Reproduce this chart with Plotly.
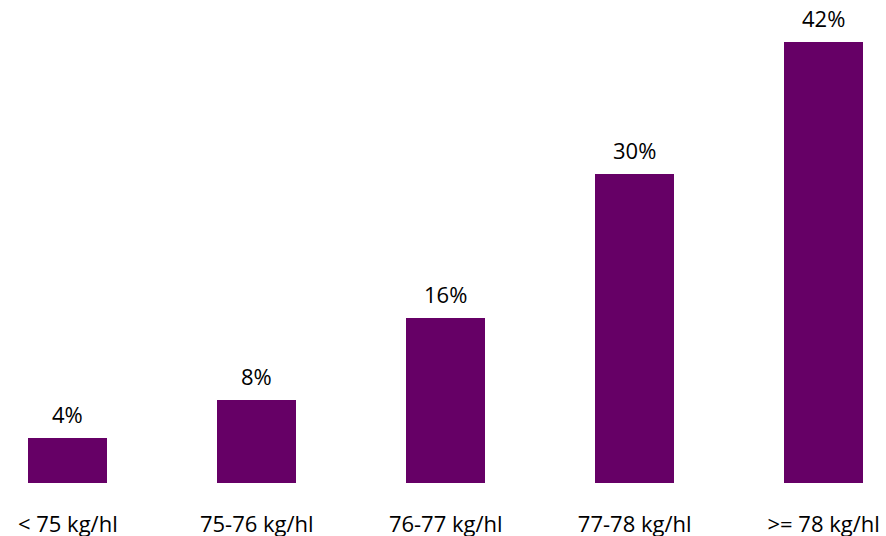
import plotly.graph_objects as go

categories = ["< 75 kg/hl", "75-76 kg/hl", "76-77 kg/hl", "77-78 kg/hl", ">= 78 kg/hl"]
values = [4.3, 7.9, 15.7, 29.4, 42.0]
labels = ["4%", "8%", "16%", "30%", "42%"]

BAR_COLOR = "#660066"
FONT = "Open Sans"
FSIZE = 22

fig = go.Figure()
fig.add_trace(go.Bar(
    x=list(range(len(categories))),
    y=values,
    width=0.42,
    marker=dict(color=BAR_COLOR, line=dict(width=0)),
    hoverinfo="skip",
))

for i, (v, t) in enumerate(zip(values, labels)):
    fig.add_annotation(x=i, y=v, text=t, showarrow=False, yanchor="middle",
                       yshift=24, font=dict(family=FONT, size=FSIZE, color="#000000"))

fig.update_layout(
    width=886, height=536,
    margin=dict(l=0, r=0, t=10, b=53, autoexpand=False),
    paper_bgcolor="white", plot_bgcolor="white",
    showlegend=False,
    font=dict(family=FONT, size=FSIZE, color="#000000"),
    bargap=0,
)
fig.update_xaxes(
    range=[-0.3588, 4.3298],
    tickmode="array", tickvals=list(range(len(categories))), ticktext=categories,
    showgrid=False, zeroline=False, showline=False, ticks="",
    automargin=False,
    ticklabelstandoff=26,
    tickfont=dict(family=FONT, size=FSIZE, color="#000000"),
)
fig.update_yaxes(range=[0, 45.0], visible=False, automargin=False)

fig.write_html("out.html")
